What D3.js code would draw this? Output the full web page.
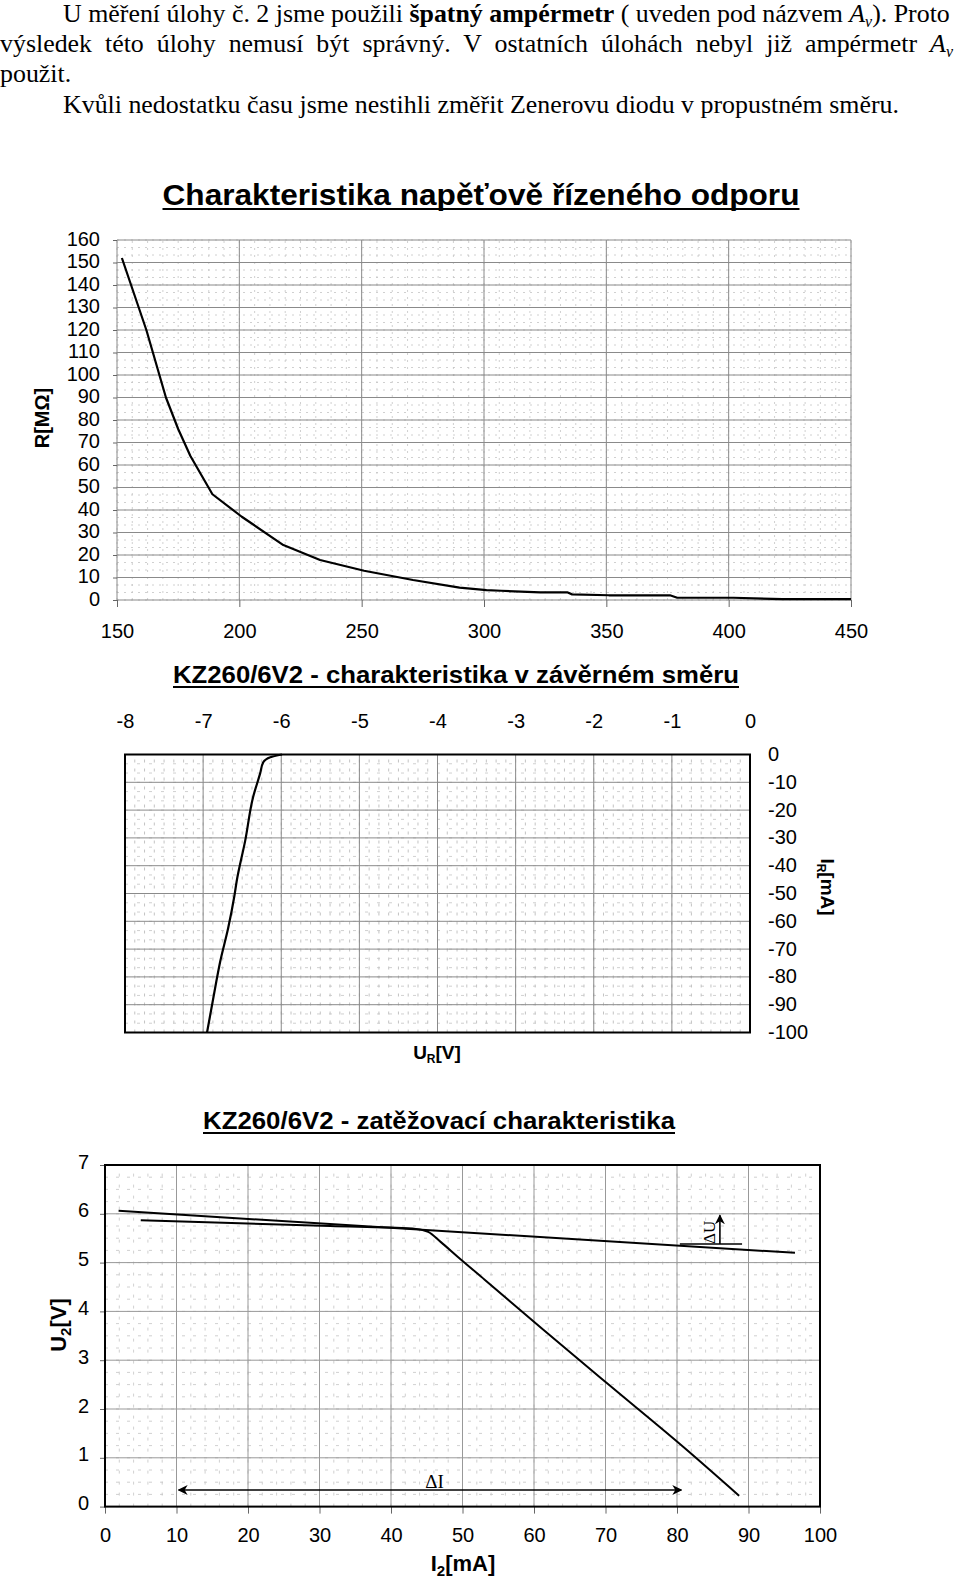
<!DOCTYPE html>
<html>
<head>
<meta charset="utf-8">
<script src="https://cdn.jsdelivr.net/npm/d3@7"></script>
<style>
  body { margin: 0; background: #fff; }
  text { fill: #000; }
</style>
</head>
<body>
<svg id="page" width="960" height="1578"></svg>
<script>
// --- chart 1: voltage controlled resistor
const resU = [152, 162, 170, 175, 180, 189, 201, 218, 233, 251, 271, 290, 301, 307, 323, 334, 336, 351, 376, 379, 402, 422, 450];
const resR = [152, 120, 90, 76, 64, 47, 37, 24.4, 17.8, 13, 8.9, 5.5, 4.4, 4.1, 3.4, 3.4, 2.5, 2.1, 2.1, 1.0, 1.0, 0.4, 0.4];
const resXTicks = [150, 200, 250, 300, 350, 400, 450];
const resYTicks = [0, 10, 20, 30, 40, 50, 60, 70, 80, 90, 100, 110, 120, 130, 140, 150, 160];

// --- chart 2: zener reverse characteristic
const revU = [-6.95, -6.83, -6.78, -6.68, -6.60, -6.57, -6.46, -6.36, -6.27, -6.23, -6.14, -5.99];
const revI = [-100, -81.5, -74.3, -62.5, -50.9, -45.5, -30.8, -15.3, -6.8, -2.8, -1.0, 0];
const revXTicks = [-8, -7, -6, -5, -4, -3, -2, -1, 0];
const revYTicks = [0, -10, -20, -30, -40, -50, -60, -70, -80, -90, -100];

// --- chart 3: load characteristic
const loadAI = [1.9, 96.5];
const loadAU = [6.06, 5.20];
const loadBI = [5, 31.5, 43, 45.2, 46.9, 49.4, 53.1, 61.1, 70.6, 80.9, 88.7];
const loadBU = [5.87, 5.75, 5.70, 5.63, 5.43, 5.11, 4.65, 3.65, 2.48, 1.22, 0.22];
const loadXTicks = [0, 10, 20, 30, 40, 50, 60, 70, 80, 90, 100];
const loadYTicks = [0, 1, 2, 3, 4, 5, 6, 7];

const svg = d3.select("#page");
svg.append("rect").attr("width", 960).attr("height", 1578).attr("fill", "#fff");

const sans = "'Liberation Sans', Arial, sans-serif";
const serif = "'Liberation Serif', 'Times New Roman', serif";
const plain = (d) => String(d);

// ---------- paragraph text ----------
function paraLine(y, x0, parts) {
  const t = svg.append("text")
    .attr("font-family", serif)
    .attr("font-size", 26);
  parts.forEach((p) => {
    const s = t.append("tspan").text(p.t);
    if (p.b) s.attr("font-weight", "bold");
    if (p.i) s.attr("font-style", "italic");
    if (p.sub) s.attr("font-size", 16).attr("dy", 5);
    if (p.up) s.attr("dy", -5);
  });
  return { t, x0, y };
}
const lines = [
  paraLine(22, 63, [
    { t: "U měření úlohy č. 2 jsme použili " },
    { t: "špatný ampérmetr", b: true },
    { t: " ( uveden pod názvem " },
    { t: "A", i: true },
    { t: "v", i: true, sub: true },
    { t: "). Proto", up: true },
  ]),
  paraLine(52, 0, [
    { t: "výsledek této úlohy nemusí být správný. V ostatních úlohách nebyl již ampérmetr " },
    { t: "A", i: true },
    { t: "v", i: true, sub: true },
  ]),
  paraLine(82, 0, [{ t: "použit." }]),
  paraLine(113, 63, [{ t: "Kvůli nedostatku času jsme nestihli změřit Zenerovu diodu v propustném směru." }]),
];
const sx = 887 / lines[0].t.node().getComputedTextLength();
lines.forEach((l, i) => {
  l.t.attr("transform", `translate(${l.x0},${l.y}) scale(${sx},1)`);
  if (i === 1) {
    const w = l.t.node().getComputedTextLength();
    const spaces = 12;
    l.t.attr("word-spacing", Math.max(0, (953 / sx - w) / spaces));
  }
});

// ---------- helpers ----------
function title(txt, cx, y, size, width) {
  svg.append("text")
    .attr("x", cx - width / 2)
    .attr("y", y)
    .attr("font-family", sans)
    .attr("font-weight", "bold")
    .attr("font-size", size)
    .attr("textLength", width)
    .attr("lengthAdjust", "spacingAndGlyphs")
    .text(txt);
  svg.append("line")
    .attr("x1", cx - width / 2).attr("x2", cx + width / 2)
    .attr("y1", y + 4).attr("y2", y + 4)
    .attr("stroke", "#000").attr("stroke-width", 2);
}

function grid(x, y, xs, ys, color, width, dash) {
  const g = svg.append("g").attr("fill", "none").attr("stroke", color).attr("stroke-width", width);
  if (dash) g.attr("stroke-dasharray", dash);
  g.selectAll(".v").data(xs).enter().append("line")
    .attr("x1", (d) => x(d)).attr("x2", (d) => x(d))
    .attr("y1", y.range()[0]).attr("y2", y.range()[1]);
  g.selectAll(".h").data(ys).enter().append("line")
    .attr("y1", (d) => y(d)).attr("y2", (d) => y(d))
    .attr("x1", x.range()[0]).attr("x2", x.range()[1]);
}

function steps(a, b, s) {
  const out = [];
  const n = Math.round((b - a) / s);
  for (let i = 0; i <= n; i++) out.push(a + i * s);
  return out;
}

function styleAxis(g) {
  g.select(".domain").remove();
  g.selectAll("line").attr("stroke", "#666");
  g.selectAll("text").attr("font-family", sans).attr("font-size", 20).attr("fill", "#000");
}

// ---------- chart 1 ----------
const x1 = d3.scaleLinear([150, 450], [117, 851]);
const y1 = d3.scaleLinear([0, 160], [600, 240]);

title("Charakteristika napěťově řízeného odporu", 481, 205, 29, 637);

grid(x1, y1, steps(150, 450, 6.25), steps(0, 160, 10 / 3), "#c4c4c4", 0.8, "2,5");
grid(x1, y1, resXTicks, resYTicks, "#8a8a8a", 1);

svg.append("g")
  .attr("transform", `translate(0,${y1(0)})`)
  .call(d3.axisBottom(x1).tickValues(resXTicks).tickSize(7).tickFormat(plain))
  .call(styleAxis)
  .call((g) => g.selectAll("text").attr("y", 38).attr("dy", 0));

svg.append("g")
  .attr("transform", `translate(${x1(150)},0)`)
  .call(d3.axisLeft(y1).tickValues(resYTicks).tickSize(4).tickPadding(13).tickFormat(plain))
  .call(styleAxis)
  .call((g) => g.selectAll("text").attr("dy", 5));

svg.append("path")
  .datum(resU.map((u, i) => [u, resR[i]]))
  .attr("fill", "none").attr("stroke", "#000").attr("stroke-width", 2.2)
  .attr("stroke-linejoin", "round")
  .attr("d", d3.line().x((d) => x1(d[0])).y((d) => y1(d[1])));

svg.append("text")
  .attr("transform", "translate(49,418) rotate(-90)")
  .attr("text-anchor", "middle")
  .attr("font-family", sans).attr("font-weight", "bold").attr("font-size", 20)
  .text("R[MΩ]");

// ---------- chart 2 ----------
const x2 = d3.scaleLinear([-8, 0], [125, 750]);
const y2 = d3.scaleLinear([-100, 0], [1032.5, 754.5]);

title("KZ260/6V2 - charakteristika v závěrném směru", 456, 683, 24, 566);

grid(x2, y2, steps(-8, 0, 0.125), [], "#b4b4b4", 0.8, "3,6");
grid(x2, y2, [], steps(-100, 0, 10 / 3), "#c4c4c4", 0.8, "3,9");
grid(x2, y2, revXTicks, revYTicks, "#8a8a8a", 1);

svg.append("g")
  .attr("transform", `translate(0,${y2(0)})`)
  .call(d3.axisTop(x2).tickValues(revXTicks).tickSize(0).tickFormat(plain))
  .call(styleAxis)
  .call((g) => g.selectAll("text").attr("y", -27).attr("dy", 0));

svg.append("g")
  .attr("transform", `translate(${x2(0)},0)`)
  .call(d3.axisRight(y2).tickValues(revYTicks).tickSize(0).tickPadding(18).tickFormat(plain))
  .call(styleAxis)
  .call((g) => g.selectAll("text").attr("dy", 6));

svg.append("rect")
  .attr("x", x2(-8)).attr("y", y2(0))
  .attr("width", x2(0) - x2(-8)).attr("height", y2(-100) - y2(0))
  .attr("fill", "none").attr("stroke", "#000").attr("stroke-width", 2);

svg.append("path")
  .datum(revU.map((u, i) => [u, revI[i]]))
  .attr("fill", "none").attr("stroke", "#000").attr("stroke-width", 2.2)
  .attr("stroke-linejoin", "round")
  .attr("d", d3.line().x((d) => x2(d[0])).y((d) => y2(d[1])).curve(d3.curveMonotoneY));

const ur = svg.append("text")
  .attr("x", 437).attr("y", 1059)
  .attr("text-anchor", "middle")
  .attr("font-family", sans).attr("font-weight", "bold").attr("font-size", 19);
ur.append("tspan").text("U");
ur.append("tspan").attr("font-size", 12).attr("dy", 4).text("R");
ur.append("tspan").attr("dy", -4).text("[V]");

const ir = svg.append("text")
  .attr("transform", "translate(821,887) rotate(90)")
  .attr("text-anchor", "middle")
  .attr("font-family", sans).attr("font-weight", "bold").attr("font-size", 19);
ir.append("tspan").text("I");
ir.append("tspan").attr("font-size", 12).attr("dy", 4).text("R");
ir.append("tspan").attr("dy", -4).text("[mA]");

// ---------- chart 3 ----------
const x3 = d3.scaleLinear([0, 100], [105, 820]);
const y3 = d3.scaleLinear([0, 7], [1506.6, 1165]);

title("KZ260/6V2 - zatěžovací charakteristika", 439, 1129, 24, 472);

grid(x3, y3, steps(0, 100, 2), steps(0, 7, 0.25), "#c4c4c4", 0.8, "3,8");
grid(x3, y3, loadXTicks, loadYTicks, "#999", 1);

svg.append("g")
  .attr("transform", `translate(0,${y3(0)})`)
  .call(d3.axisBottom(x3).tickValues(loadXTicks).tickSize(7).tickFormat(plain))
  .call(styleAxis)
  .call((g) => g.selectAll("text").attr("y", 35).attr("dy", 0));

svg.append("g")
  .attr("transform", `translate(${x3(0)},0)`)
  .call(d3.axisLeft(y3).tickValues(loadYTicks).tickSize(5).tickPadding(11).tickFormat(plain))
  .call(styleAxis)
  .call((g) => g.selectAll("text").attr("dy", 3));

svg.append("rect")
  .attr("x", x3(0)).attr("y", y3(7))
  .attr("width", x3(100) - x3(0)).attr("height", y3(0) - y3(7))
  .attr("fill", "none").attr("stroke", "#000").attr("stroke-width", 2);

const line3 = d3.line().x((d) => x3(d[0])).y((d) => y3(d[1]));
svg.append("path")
  .datum(loadAI.map((v, i) => [v, loadAU[i]]))
  .attr("fill", "none").attr("stroke", "#000").attr("stroke-width", 2)
  .attr("d", line3);
svg.append("path")
  .datum(loadBI.map((v, i) => [v, loadBU[i]]))
  .attr("fill", "none").attr("stroke", "#000").attr("stroke-width", 2)
  .attr("stroke-linejoin", "round")
  .attr("d", line3.curve(d3.curveMonotoneX));

// annotations: delta I and delta U
const defs = svg.append("defs");
defs.append("marker")
  .attr("id", "ah").attr("viewBox", "0 0 10 10")
  .attr("refX", 9).attr("refY", 5)
  .attr("markerWidth", 10).attr("markerHeight", 10)
  .attr("markerUnits", "userSpaceOnUse")
  .attr("orient", "auto-start-reverse")
  .append("path").attr("d", "M0,0L10,5L0,10L3,5Z").attr("fill", "#000");

svg.append("line")
  .attr("x1", x3(10.3)).attr("x2", x3(80.6))
  .attr("y1", y3(0.34)).attr("y2", y3(0.34))
  .attr("stroke", "#000").attr("stroke-width", 1.6)
  .attr("marker-start", "url(#ah)").attr("marker-end", "url(#ah)");
svg.append("text")
  .attr("x", x3(46.1)).attr("y", y3(0.38))
  .attr("text-anchor", "middle")
  .attr("font-family", serif).attr("font-size", 19)
  .text("ΔI");

svg.append("line")
  .attr("x1", x3(80.4)).attr("x2", x3(89.1))
  .attr("y1", y3(5.38)).attr("y2", y3(5.38))
  .attr("stroke", "#000").attr("stroke-width", 1.6);
svg.append("line")
  .attr("x1", x3(86.0)).attr("x2", x3(86.0))
  .attr("y1", y3(5.38)).attr("y2", y3(5.97))
  .attr("stroke", "#000").attr("stroke-width", 1.6)
  .attr("marker-end", "url(#ah)");
svg.append("text")
  .attr("transform", `translate(${x3(85.3)},${y3(5.62)}) rotate(-90)`)
  .attr("text-anchor", "middle")
  .attr("font-family", serif).attr("font-size", 17)
  .text("ΔU");

const u2 = svg.append("text")
  .attr("transform", "translate(66,1325) rotate(-90)")
  .attr("text-anchor", "middle")
  .attr("font-family", sans).attr("font-weight", "bold").attr("font-size", 22);
u2.append("tspan").text("U");
u2.append("tspan").attr("font-size", 15).attr("dy", 5).text("2");
u2.append("tspan").attr("dy", -5).text("[V]");

const i2 = svg.append("text")
  .attr("x", 463).attr("y", 1571)
  .attr("text-anchor", "middle")
  .attr("font-family", sans).attr("font-weight", "bold").attr("font-size", 22);
i2.append("tspan").text("I");
i2.append("tspan").attr("font-size", 15).attr("dy", 5).text("2");
i2.append("tspan").attr("dy", -5).text("[mA]");
</script>
</body>
</html>
